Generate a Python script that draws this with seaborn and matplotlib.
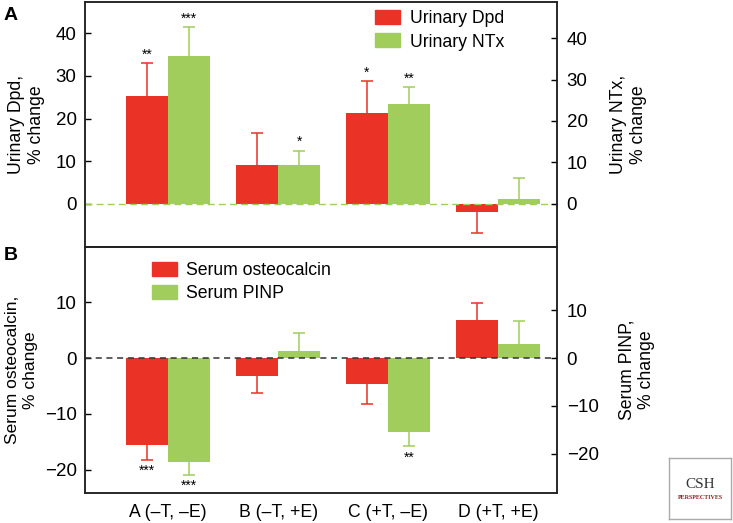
import numpy as np
import pandas as pd
import matplotlib
matplotlib.use("Agg")
import matplotlib.pyplot as plt
from matplotlib.patches import Patch
import seaborn as sns

plt.rcParams["font.family"] = ["Liberation Sans", "DejaVu Sans"]
plt.rcParams["font.size"] = 12

# ── DATA ───────────────────────────────────────────────────
grupos = ["A (–T, –E)", "B (–T, +E)", "C (+T, –E)", "D (+T, +E)"]

# Panel A (% change)
dpd = [25.3, 9.1, 21.3, -1.9]
dpd_err = [7.7, 7.5, 7.5, 4.9]
dpd_sig = ["**", "", "*", ""]
ntx = [34.7, 9.1, 23.4, 1.1]
ntx_err = [6.8, 3.4, 4.0, 4.9]
ntx_sig = ["***", "*", "**", ""]

# Panel B (% change)
osteo = [-15.6, -3.2, -4.7, 6.8]
osteo_err = [2.7, 3.1, 3.6, 3.1]
osteo_sig = ["***", "", "", ""]
pinp = [-18.7, 1.3, -13.3, 2.5]
pinp_err = [2.2, 3.1, 2.5, 4.1]
pinp_sig = ["***", "", "**", ""]

rojo = "#EA3226"
verde = "#A0CD5C"
TICK_FS = 13.5


def panel(ax, serie1, serie2, nombres, errores, sig):
    df = pd.DataFrame({
        "grupo": grupos * 2,
        "marcador": [nombres[0]] * 4 + [nombres[1]] * 4,
        "valor": serie1 + serie2,
    })
    sns.barplot(data=df, x="grupo", y="valor", hue="marcador", palette=[rojo, verde],
                width=0.77, saturation=1, errorbar=None, legend=False, ax=ax,
                linewidth=0, zorder=2)
    for cont, vals, errs, stars, col in zip(ax.containers, [serie1, serie2], errores, sig, [rojo, verde]):
        for barra, v, e, s in zip(cont, vals, errs, stars):
            xc = barra.get_x() + barra.get_width() / 2
            yerr = [[0], [e]] if v >= 0 else [[e], [0]]
            _, caps, _ = ax.errorbar([xc], [v], yerr=yerr, fmt="none", ecolor=col, elinewidth=1.1,
                                     capsize=4.5, capthick=1.1, zorder=1)
            # solo la tapa del extremo
            caps[0 if v >= 0 else 1].set_visible(False)
            if s:
                if v >= 0:
                    ax.annotate(s, (xc, v + e), xytext=(0, 1), textcoords="offset points",
                                ha="center", va="bottom", fontsize=10)
                else:
                    ax.annotate(s, (xc, v - e), xytext=(0, -3), textcoords="offset points",
                                ha="center", va="top", fontsize=10)
    ax.set_xlim(-0.755, 3.535)
    ax.set_xlabel("")
    for sp in ax.spines.values():
        sp.set_linewidth(1.1)
        sp.set_color("#222222")
    ax.tick_params(axis="y", direction="in", length=4.5, width=1, pad=6, labelsize=TICK_FS)
    ax.tick_params(axis="x", length=0)


fig = plt.figure(figsize=(7.33, 5.23), dpi=100)
axA = fig.add_axes([85 / 733, 1 - 247 / 523, 472 / 733, 245 / 523])
axB = fig.add_axes([85 / 733, 1 - 493 / 523, 472 / 733, 246 / 523])

# ── Panel A ──
panel(axA, dpd, ntx, ["Urinary Dpd", "Urinary NTx"], [dpd_err, ntx_err], [dpd_sig, ntx_sig])
axA.set_ylim(-10.07, 47.3)
axA.set_yticks([0, 10, 20, 30, 40])
axA.set_xticks([])
axA.axhline(0, color=verde, ls=(0, (5, 3)), lw=1, zorder=3)
axA.set_ylabel("Urinary Dpd,\n% change", labelpad=8, fontsize=12.7)
axA2 = axA.twinx()
axA2.set_ylim(-10.4, 48.7)
axA2.set_yticks([0, 10, 20, 30, 40])
axA2.tick_params(axis="y", direction="in", length=4.5, width=1, pad=7, labelsize=TICK_FS)
axA2.set_ylabel("Urinary NTx,\n% change", labelpad=16, fontsize=12.7)
axA.legend(handles=[Patch(color=rojo, label="Urinary Dpd"), Patch(color=verde, label="Urinary NTx")],
           loc="upper left", bbox_to_anchor=(0.615, 0.967), frameon=False, borderpad=0,
           borderaxespad=0, handlelength=1.4, handleheight=0.85, handletextpad=0.55,
           labelspacing=0.35, fontsize=12.7)

# ── Panel B ──
panel(axB, osteo, pinp, ["Serum osteocalcin", "Serum PINP"], [osteo_err, pinp_err], [osteo_sig, pinp_sig])
axB.set_ylim(-24.2, 19.9)
axB.set_yticks([-20, -10, 0, 10])
axB.set_yticklabels(["−20", "−10", "0", "10"])
axB.axhline(0, color="#333333", ls=(0, (4, 3)), lw=1.1, zorder=3)
axB.set_ylabel("Serum osteocalcin,\n% change", labelpad=5, fontsize=12.5)
axB.tick_params(axis="x", pad=8, labelsize=12.7)
axB2 = axB.twinx()
axB2.set_ylim(-28.2, 23.2)
axB2.set_yticks([-20, -10, 0, 10])
axB2.set_yticklabels(["−20", "−10", "0", "10"])
axB2.tick_params(axis="y", direction="in", length=4.5, width=1, pad=7, labelsize=TICK_FS)
axB2.set_ylabel("Serum PINP,\n% change", labelpad=14, fontsize=12.7)
axB.legend(handles=[Patch(color=rojo, label="Serum osteocalcin"), Patch(color=verde, label="Serum PINP")],
           loc="upper left", bbox_to_anchor=(0.142, 0.94), frameon=False, borderpad=0,
           borderaxespad=0, handlelength=1.4, handleheight=0.85, handletextpad=0.55,
           labelspacing=0.35, fontsize=12.7)

for ax2 in (axA2, axB2):
    for sp in ax2.spines.values():
        sp.set_linewidth(1.1)
        sp.set_color("#222222")

# etiquetas de panel
fig.text(4 / 733, 1 - 15 / 523, "A", fontsize=14, fontweight="bold", va="center")
fig.text(4 / 733, 1 - 256 / 523, "B", fontsize=14, fontweight="bold", va="center")

# logo CSH
axL = fig.add_axes([669 / 733, 1 - 519 / 523, 62 / 733, 61 / 523])
axL.set_xticks([])
axL.set_yticks([])
for sp in axL.spines.values():
    sp.set_color("#aaaaaa")
    sp.set_linewidth(1)
axL.text(0.5, 0.57, "CSH", ha="center", va="center", fontsize=11, color="#333333",
         family=["Liberation Serif", "DejaVu Serif"])
axL.text(0.5, 0.36, "PERSPECTIVES", ha="center", va="center", fontsize=4.3,
         color="#8B1A1A", fontweight="bold", family=["Liberation Serif", "DejaVu Serif"])

fig.savefig("out.png", dpi=100)
